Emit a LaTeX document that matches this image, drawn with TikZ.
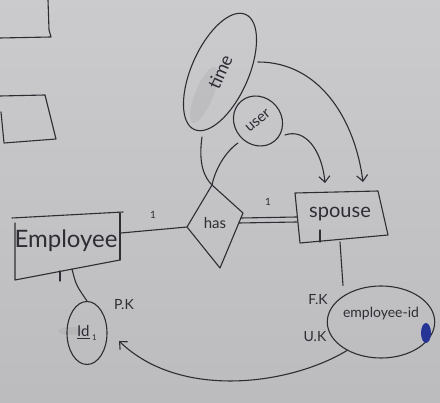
\documentclass[tikz,border=0pt]{standalone}
\usepackage{fontspec}
\setmainfont{Lato}
\usetikzlibrary{shapes.geometric,arrows.meta}
\definecolor{board}{RGB}{203,203,205}
\definecolor{boardlow}{RGB}{188,188,190}
\definecolor{ink}{RGB}{45,45,52}
\definecolor{marker}{RGB}{38,52,150}
\begin{document}
\begin{tikzpicture}[x=1pt,y=-1pt,
  pen/.style={draw=ink, line width=1.1pt, line cap=round, line join=round},
  lbl/.style={text=ink, inner sep=0pt},
  attr/.style={pen, ellipse, inner sep=0pt, text=ink},
  tip/.style={-{Straight Barb[length=6pt,width=11pt,line width=1.1pt]}}]
% whiteboard
\shade[top color=board,bottom color=boardlow] (0,0) rectangle (440,403);
\useasboundingbox (0,0) rectangle (440,403);

% boxes cut by the left edge
\draw[pen] (48,0) -- (49,30) -- (51,37) -- (0,38);
\draw[pen] (0,96) -- (45,95) -- (56,139) -- (4,143) -- (1,112);

% faint erased smudges
\fill[ink, opacity=0.06, rotate around={68:(204,95)}] (204,95) ellipse [x radius=30, y radius=9];
\fill[ink, opacity=0.06] (72,331) ellipse [x radius=14, y radius=4];

% ---- Employee entity
\coordinate (eTL) at (12,218);
\coordinate (eTR) at (123,212);
\coordinate (eBL) at (15,280);
\coordinate (eBR) at (120,260);
\draw[pen] (eTL) -- (eTR);
\draw[pen] (15,223) -- (eBL) -- (eBR);
\draw[pen] (120,213) -- (eBR);
\draw[pen] (60,271) -- (60,281);
\node[lbl, font=\fontsize{24}{24}\selectfont] (employee) at (66,241) {Employee};

% ---- Id attribute
\node[attr, minimum width=40pt, minimum height=63pt,
      font=\fontsize{15}{15}\selectfont] (id) at (87,333)
      {\underline{Id}\,\raisebox{-4pt}{\fontsize{8}{8}\selectfont 1}};
\node[lbl, font=\fontsize{14}{14}\selectfont] (pk) at (124,305) {P.K};
\coordinate (eId) at (72,269);
\draw[pen] (eId) .. controls (76,285) .. (id.north);

% ---- has relationship
\coordinate (hL) at (187,227);
\coordinate (hT) at (212,185);
\coordinate (hR) at (243,213);
\coordinate (hB) at (220,268);
\draw[pen] (hL) -- (hT) -- (hR) -- (hB) -- cycle;
\node[lbl, font=\fontsize{15}{15}\selectfont] (has) at (215,223) {has};
\coordinate (eR) at (121,233);
\draw[pen] (eR) -- (hL);
\node[lbl, font=\fontsize{10}{10}\selectfont] (oneA) at (153,215) {1};

% ---- Spouse entity
\coordinate (sTL) at (295,193);
\coordinate (sTR) at (378,191);
\coordinate (sBR) at (388,235);
\coordinate (sBL) at (300,243);
\draw[pen] (sTL) -- (sTR) -- (sBR) -- (sBL) -- cycle;
\draw[pen] (320,230) -- (320,242);
\node[lbl, font=\fontsize{20}{20}\selectfont] (spouse) at (340,214) {spouse};
% total participation: double line
\coordinate (hR1) at (241,218);
\coordinate (hR2) at (239,223);
\coordinate (sL1) at (297,217);
\coordinate (sL2) at (297,222);
\draw[pen] (hR1) -- (sL1);
\draw[pen] (hR2) -- (sL2);
\node[lbl, font=\fontsize{10}{10}\selectfont] (oneB) at (268,202) {1};

% ---- employee-id attribute
\node[attr, minimum width=102pt, minimum height=72pt,
      font=\fontsize{14}{14}\selectfont] (empid) at (381,322)
      {\smash{\raisebox{4pt}{employee-id}}};
\node[lbl, font=\fontsize{14}{14}\selectfont] (fk) at (318,300) {F.K};
\node[lbl, font=\fontsize{14}{14}\selectfont] (uk) at (315,337) {U.K};
\fill[marker] (426,333) ellipse [x radius=5, y radius=10];
\coordinate (sB) at (340,242);
\draw[pen] (sB) -- (empid.north -| 343,0);

% reference back to Id
\coordinate (idtip) at (119,341);
\draw[pen, tip] (empid.220) .. controls (290,385) and (180,400) .. (idtip);

% ---- time attribute
\node[attr, minimum width=126pt, minimum height=57pt, rotate=66,
      font=\fontsize{18}{18}\selectfont] (time) at (220,72) {time};
\coordinate (tB) at (202,137);
\draw[pen] (tB) .. controls (198,165) and (205,178) .. (hT);
\coordinate (tR) at (258,62);
\coordinate (sArrA) at (363,182);
\draw[pen, tip] (tR) .. controls (320,62) and (355,120) .. (sArrA);

% ---- user attribute
\node[attr, minimum width=47pt, minimum height=52pt, rotate=40,
      font=\fontsize{15}{15}\selectfont] (user) at (258,121) {user};
\coordinate (uBL) at (238,143);
\draw[pen] (uBL) .. controls (225,152) and (215,170) .. (hT);
\coordinate (uR) at (285,135);
\coordinate (sArrB) at (325,183);
\draw[pen, tip] (uR) .. controls (305,128) and (322,150) .. (sArrB);
\end{tikzpicture}
\end{document}
